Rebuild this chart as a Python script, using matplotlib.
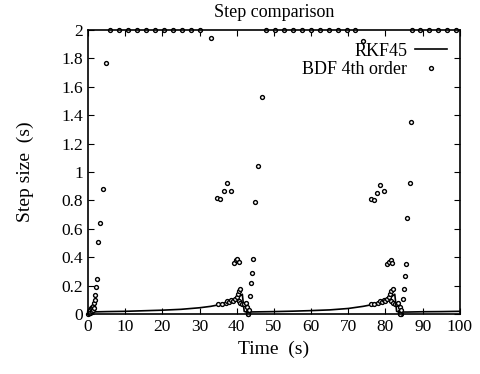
import matplotlib.pyplot as plt

# RKF45 step size
rkf_t = [0, 5, 10, 15, 20, 25, 30, 33, 36, 38, 40, 41.5, 42.0, 42.5, 45, 50, 55, 60, 65,
         70, 74, 77, 79, 81, 82.5, 83.0, 83.5, 86, 90, 95, 100]
rkf_h = [0.015, 0.018, 0.02, 0.024, 0.028, 0.034, 0.045, 0.055, 0.07, 0.085, 0.11, 0.14,
         0.02, 0.015, 0.016, 0.018, 0.021, 0.025, 0.03, 0.04, 0.055, 0.07, 0.09, 0.11,
         0.14, 0.02, 0.015, 0.015, 0.017, 0.018, 0.02]

# BDF 4th order steps
bdf_t = [0.1, 0.2, 0.3, 0.4, 0.5, 0.6, 0.8, 1.0, 1.1, 1.3, 1.4, 1.6, 1.7, 1.8,
         1.9, 2.2, 2.4, 2.7, 3.2, 4.0, 4.8,
         6.0, 8.4, 10.8, 13.2, 15.6, 18.0, 20.4, 22.8, 25.2, 27.6, 30.0,
         33.0, 34.7, 35.5, 36.6, 37.3, 38.4,
         35.0, 36.0, 37.0, 37.5, 38.0, 38.5, 39.0, 39.5, 40.0, 40.3, 40.6, 40.9,
         40.5, 41.0, 41.5, 42.0, 42.5, 42.8, 43.0, 43.0, 43.1, 43.2, 42.9,
         39.2, 39.8, 40.2, 40.6,
         43.5, 43.8, 44.1, 44.4, 44.9, 45.7, 46.8,
         48.0, 50.4, 52.8, 55.2, 57.6, 60.0, 62.4, 64.8, 67.2, 69.6, 71.8,
         74.0, 76.1, 76.9, 77.7, 78.5, 79.5,
         76.0, 77.0, 78.0, 78.5, 79.0, 79.5, 80.0, 80.5, 81.0, 81.3, 81.6, 81.9,
         81.5, 82.0, 82.5, 83.0, 83.5, 83.8, 84.0, 84.0, 84.1, 84.2, 83.9,
         80.4, 81.0, 81.4, 81.7,
         84.7, 85.0, 85.2, 85.5, 85.8, 86.6, 86.8,
         87.0, 89.4, 91.8, 94.2, 96.6, 99.0]
bdf_h = [0.0, 0.01, 0.02, 0.005, 0.03, 0.01, 0.04, 0.02, 0.05, 0.03, 0.06, 0.08, 0.04, 0.1,
         0.134, 0.19, 0.25, 0.51, 0.64, 0.88, 1.77,
         2, 2, 2, 2, 2, 2, 2, 2, 2, 2, 2,
         1.94, 0.82, 0.81, 0.87, 0.92, 0.87,
         0.07, 0.075, 0.08, 0.09, 0.085, 0.1, 0.09, 0.11, 0.12, 0.14, 0.16, 0.18,
         0.09, 0.08, 0.07, 0.07, 0.08, 0.05, 0.02, 0.01, 0.0, 0.03, 0.0,
         0.36, 0.38, 0.39, 0.37,
         0.13, 0.22, 0.29, 0.39, 0.79, 1.04, 1.53,
         2, 2, 2, 2, 2, 2, 2, 2, 2, 2, 2,
         1.92, 0.81, 0.80, 0.85, 0.91, 0.87,
         0.07, 0.075, 0.08, 0.09, 0.085, 0.1, 0.09, 0.11, 0.12, 0.14, 0.16, 0.18,
         0.09, 0.08, 0.07, 0.07, 0.08, 0.05, 0.02, 0.01, 0.0, 0.03, 0.0,
         0.35, 0.37, 0.38, 0.36,
         0.11, 0.18, 0.27, 0.35, 0.68, 0.92, 1.35,
         2, 2, 2, 2, 2, 2]

plt.rcParams['font.family'] = ['Liberation Serif', 'DejaVu Serif']
plt.rcParams['font.size'] = 13

fig = plt.figure(figsize=(4.81, 3.74), dpi=100)
ax = fig.add_axes([0.183, 0.160, 0.773, 0.760])

ax.plot(rkf_t, rkf_h, color='black', lw=1.2, label='RKF45')
ax.plot(bdf_t, bdf_h, ls='none', marker='o', ms=2.8, mfc='white', mec='black',
        mew=1.0, label='BDF 4th order', clip_on=False)

ax.set_xlim(0, 100)
ax.set_ylim(0, 2)
ax.set_xticks(range(0, 101, 10))
ax.set_yticks([i * 0.2 for i in range(11)])
ax.set_yticklabels(['0', '0.2', '0.4', '0.6', '0.8', '1', '1.2', '1.4', '1.6', '1.8', '2'])
ax.tick_params(direction='in', top=True, right=True, length=4, labelsize=12.5)
for s in ax.spines.values():
    s.set_linewidth(1.2)

ax.set_title('Step comparison', fontsize=13, pad=9)
ax.set_xlabel('Time  (s)', fontsize=14, labelpad=4)
ax.set_ylabel('Step size  (s)', fontsize=14)
ax.yaxis.set_label_coords(-0.145, 0.5)

leg = ax.legend(loc='upper right', frameon=False, markerfirst=False, fontsize=13,
                handlelength=1.8, borderaxespad=0.3, labelspacing=0.1, handletextpad=0.4)
for t in leg.get_texts():
    t.set_ha('right')

plt.savefig('out.png', dpi=100)
